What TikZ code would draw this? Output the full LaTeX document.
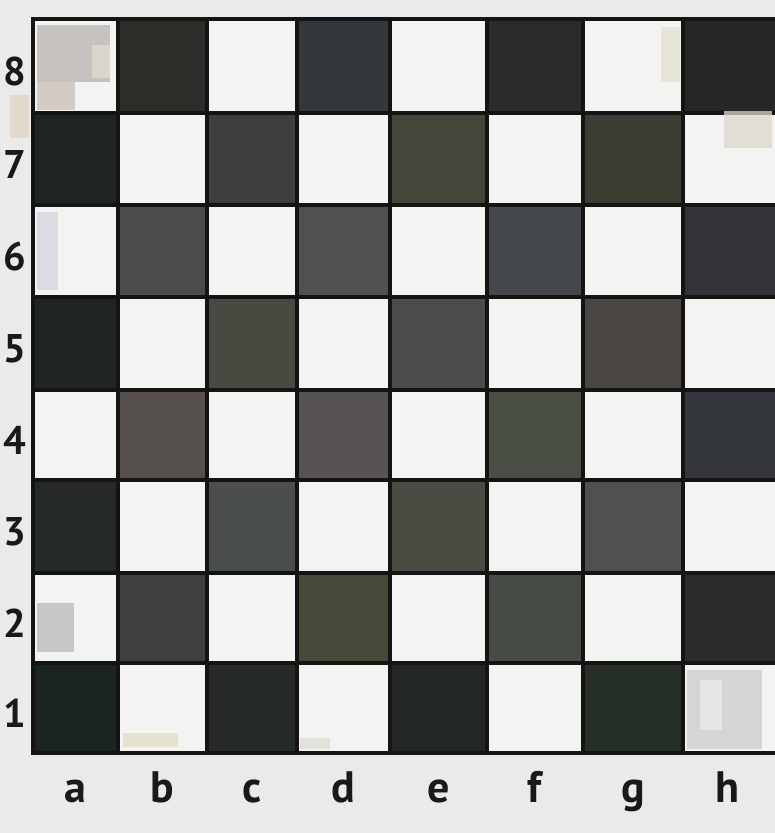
\documentclass[tikz,border=0pt]{standalone}
\usepackage{fontspec}
\setmainfont{PT Sans}
\definecolor{bg}{HTML}{EAEAE8}
\definecolor{lightsq}{HTML}{F3F3F1}
\definecolor{d-b8}{HTML}{2B2D29}\definecolor{d-d8}{HTML}{35383A}\definecolor{d-f8}{HTML}{2A2B2A}\definecolor{d-h8}{HTML}{262725}
\definecolor{d-a7}{HTML}{1F2521}\definecolor{d-c7}{HTML}{3D3E3C}\definecolor{d-e7}{HTML}{44463A}\definecolor{d-g7}{HTML}{3B3F33}
\definecolor{d-b6}{HTML}{4D4A4A}\definecolor{d-d6}{HTML}{4E5051}\definecolor{d-f6}{HTML}{45484A}\definecolor{d-h6}{HTML}{333438}
\definecolor{d-a5}{HTML}{1F2521}\definecolor{d-c5}{HTML}{474A40}\definecolor{d-e5}{HTML}{4D4C4A}\definecolor{d-g5}{HTML}{4A4642}
\definecolor{d-b4}{HTML}{55504C}\definecolor{d-d4}{HTML}{575353}\definecolor{d-f4}{HTML}{484E44}\definecolor{d-h4}{HTML}{33363A}
\definecolor{d-a3}{HTML}{252A26}\definecolor{d-c3}{HTML}{4A4E4C}\definecolor{d-e3}{HTML}{4A4C44}\definecolor{d-g3}{HTML}{4E5052}
\definecolor{d-b2}{HTML}{3E403E}\definecolor{d-d2}{HTML}{484838}\definecolor{d-f2}{HTML}{464C44}\definecolor{d-h2}{HTML}{2A2C2A}
\definecolor{d-a1}{HTML}{1C2420}\definecolor{d-c1}{HTML}{252A26}\definecolor{d-e1}{HTML}{222624}\definecolor{d-g1}{HTML}{262E28}
\tikzset{
  darksq/.style={draw=black!92,line width=3.5pt},
  boardframe/.style={draw=black!92,line width=4.5pt},
  coordlabel/.style={font=\fontsize{44}{44}\selectfont\bfseries,text=black!90,inner sep=0pt},
  ghost/.style={fill=#1,draw=none,fill opacity=0.75},
}
\begin{document}
\begin{tikzpicture}[x=1pt,y=-1pt]
\useasboundingbox (0,0) rectangle (775,833);
\fill[bg] (0,0) rectangle (775,833);
\def\XS{{33,118,207,297,390,487,583,683,785}}
\def\YS{{19,113,205,297,390,480,573,663,753}}
\begin{scope}
\clip (0,0) rectangle (775,833);
\fill[lightsq] (33,19) rectangle (785,753);
\foreach \f [count=\i from 0] in {a,b,c,d,e,f,g,h}{
  \foreach \r [count=\j from 0] in {8,7,6,5,4,3,2,1}{
    \pgfmathtruncatemacro\p{mod(\i+\j,2)}
    \ifnum\p=1
      \pgfmathsetmacro\xa{\XS[\i]}
      \pgfmathsetmacro\xb{\XS[\i+1]}
      \pgfmathsetmacro\ya{\YS[\j]}
      \pgfmathsetmacro\yb{\YS[\j+1]}
      \path[darksq,fill=d-\f\r] (\xa,\ya) rectangle (\xb,\yb);
    \fi
  }
}
% faint remnants
\fill[ghost=brown!8!gray!60!white] (37,25) rectangle (110,82);
\fill[ghost=brown!25!gray!50!white] (37,82) rectangle (75,110);
\fill[ghost=yellow!20!gray!35!white] (92,45) rectangle (110,78);
\fill[ghost=blue!12!gray!30!white] (37,212) rectangle (58,290);
\fill[ghost=gray!55!white] (37,603) rectangle (74,652);
\fill[ghost=yellow!30!gray!40!white] (123,733) rectangle (178,747);
\fill[ghost=yellow!15!gray!35!white] (300,738) rectangle (330,749);
\fill[ghost=yellow!25!gray!35!white] (661,27) rectangle (680,82);
\fill[ghost=yellow!15!gray!40!white] (724,111) rectangle (772,148);
\fill[ghost=gray!40!white] (687,670) rectangle (762,749);
\fill[ghost=gray!15!white] (700,680) rectangle (722,730);
\draw[boardframe] (33,19) rectangle (790,753);
\end{scope}
\fill[ghost=brown!20!bg] (10,95) rectangle (29,138);
% rank labels
\foreach \r [count=\j from 0] in {8,7,6,5,4,3,2,1}{
  \pgfmathsetmacro\ya{\YS[\j]}
  \pgfmathsetmacro\yb{\YS[\j+1]}
  \node[coordlabel,font=\fontsize{40}{40}\selectfont\bfseries] (rank\r) at (15,{(\ya+\yb)/2+5}) {\r};
}
% file labels
\foreach \f [count=\i from 0] in {a,b,c,d,e,f,g,h}{
  \pgfmathsetmacro\xa{\XS[\i]}
  \pgfmathsetmacro\xb{\XS[\i+1]}
  \pgfmathsetmacro\xc{ifthenelse(\i==7,727,(\xa+\xb)/2)}
  \node[coordlabel,anchor=base] (file\f) at (\xc,802) {\f};
}
\end{tikzpicture}
\end{document}
